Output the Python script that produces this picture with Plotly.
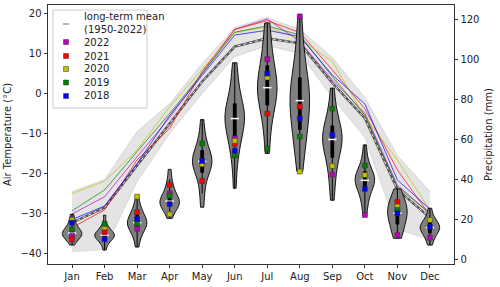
import numpy as np
import plotly.graph_objects as go

months = ["Jan", "Feb", "Mar", "Apr", "May", "Jun", "Jul", "Aug", "Sep", "Oct", "Nov", "Dec"]

# Air temperature (left axis, °C)
temp_mean = [-32.3, -28.5, -18.0, -7.5, 3.0, 11.7, 13.8, 12.5, 2.6, -6.2, -24.0, -31.0]
temp_band_max = [-24.5, -21.5, -9.5, -2.5, 7.5, 16.5, 19.0, 16.0, 9.0, -1.0, -15.5, -24.5]
temp_band_min = [-39.5, -39.0, -22.0, -10.0, 0.0, 9.2, 12.0, 10.0, -1.0, -11.0, -34.0, -36.5]
temp_2022 = [-30.1, -25.8, -15.8, -6.0, 5.0, 16.0, 18.6, 13.0, 3.4, -4.9, -22.9, -30.0]
temp_2021 = [-33.5, -29.1, -16.6, -8.7, 5.5, 16.0, 18.2, 15.2, 5.9, -3.8, -19.1, -30.4]
temp_2020 = [-25.0, -21.9, -14.1, -3.3, 6.0, 15.2, 16.6, 13.6, 8.0, -5.8, -16.6, -29.2]
temp_2019 = [-29.3, -24.1, -14.5, -5.0, 5.0, 15.3, 16.9, 14.6, 4.2, -5.4, -23.3, -30.0]
temp_2018 = [-31.5, -28.1, -17.5, -5.5, 4.5, 14.6, 15.8, 14.2, 4.6, -2.6, -21.6, -28.9]

# Precipitation (right axis, mm) – long-term monthly samples (1950-2022), estimated
precip_samples = [
    [7, 9, 10, 10.5, 11, 11.5, 12, 12.5, 13, 13, 13.5, 14, 14.5, 15, 16, 17, 18.5, 20, 22.5],
    [4.5, 7, 8.5, 9.5, 10, 10.5, 11, 11.5, 12, 12, 12.5, 13, 13.5, 14, 15, 16, 17.5, 22],
    [6, 10, 12, 14, 15, 16, 17, 17.5, 18, 18.5, 19, 20, 21, 22, 23.5, 25, 27, 31.3],
    [20.4, 23, 25, 26, 27, 27.5, 28, 28.5, 29, 30, 31, 32, 33, 35, 37, 40, 45],
    [26, 33, 38, 42, 44, 46, 47, 48, 49, 50, 51, 52, 54, 56, 59, 63, 70],
    [35.5, 48, 54, 58, 61, 64, 67, 69, 70, 71, 72, 74, 76, 78, 81, 86, 92, 98.5],
    [53, 62, 70, 75, 78, 81, 83, 85, 86, 88, 90, 93, 96, 100, 105, 112, 118.5],
    [44, 52, 58, 62, 65, 70, 74, 77, 79, 80, 82, 85, 88, 91, 95, 102, 110, 121.8],
    [29.5, 38, 44, 48, 52, 55, 57, 59, 60, 61, 62, 64, 66, 69, 72, 77, 85.8],
    [21.5, 27, 30, 33, 35, 36.5, 38, 39, 39.5, 40, 41, 42, 43.5, 45, 47, 51, 57.3],
    [10.4, 12, 14, 16, 18, 19.5, 21, 22, 23, 24, 25, 26, 27.5, 29, 30.5, 32, 35.2],
    [7, 9.5, 11, 12.5, 13.5, 14.5, 15, 15.5, 16, 16.5, 17, 18, 19, 20, 22, 25.5],
]
precip_2022 = [11.6, None, 15.2, 33.0, None, 60.6, 100.3, 121.8, 42.4, 22.1, 12.1, 10.7]
precip_2021 = [9.9, 13.4, 23.5, 37.2, 39.2, 57.8, 73.0, 76.5, None, None, 28.6, None]
precip_2020 = [19.6, 15.9, 31.3, 22.5, 47.6, 59.3, 91.1, 43.9, 46.7, 42.2, 26.3, 19.6]
precip_2019 = [14.9, 17.6, 17.9, 31.8, 58.0, 51.9, 55.4, 61.5, 75.5, 46.9, 24.6, None]
precip_2018 = [18.2, 9.9, 20.1, 27.6, 49.2, 54.4, 93.1, 70.5, 62.3, 35.2, 23.0, 16.2]

years = ["2022", "2021", "2020", "2019", "2018"]
colors = ["#bf00bf", "#ff0000", "#bfbf00", "#008000", "#0000ff"]
mean_label = "long-term mean<br>(1950-2022)"
temps = [temp_2022, temp_2021, temp_2020, temp_2019, temp_2018]
precs = [precip_2022, precip_2021, precip_2020, precip_2019, precip_2018]

FONT = "DejaVu Sans"
W, H = 500, 287
ML, MR, MT, MB = 48, 46, 5, 23
PW, PH = W - ML - MR, H - MT - MB

def px(x):  # pixel x -> paper x
    return (x - ML) / PW

def py(y):  # pixel y -> paper y
    return (H - MB - y) / PH

fig = go.Figure()

# grey band of all years
fig.add_trace(go.Scatter(x=months, y=temp_band_max, mode="lines",
                         line=dict(color="rgba(190,190,190,0.6)", width=0.8),
                         showlegend=False, hoverinfo="skip"))
fig.add_trace(go.Scatter(x=months, y=temp_band_min, mode="lines", fill="tonexty",
                         fillcolor="rgba(205,205,205,0.55)",
                         line=dict(color="rgba(190,190,190,0.6)", width=0.8),
                         showlegend=False, hoverinfo="skip"))

# long-term mean
fig.add_trace(go.Scatter(x=months, y=temp_mean, mode="lines",
                         line=dict(color="#555555", width=2.4),
                         showlegend=False, hoverinfo="skip"))
fig.add_trace(go.Scatter(x=months, y=temp_mean, mode="lines",
                         line=dict(color="white", width=0.9, dash="dot"),
                         showlegend=False, hoverinfo="skip"))

# yearly temperature lines
for t, c in zip(temps, colors):
    fig.add_trace(go.Scatter(x=months, y=t, mode="lines", line=dict(color=c, width=0.8),
                             showlegend=False, opacity=0.85, hoverinfo="skip"))

# violins on precipitation axis (one per month so each has the same max width)
for i, (m, s) in enumerate(zip(months, precip_samples)):
    fig.add_trace(go.Violin(x=[m] * len(s), y=s, yaxis="y2", width=0.6, scalemode="width",
                            scalegroup="m%d" % i, spanmode="hard", points=False,
                            fillcolor="#808080", line=dict(color="black", width=0.9),
                            opacity=1,
                            box=dict(visible=True, width=0.14, fillcolor="black",
                                     line=dict(color="black", width=1)),
                            meanline=dict(visible=False), showlegend=False,
                            hoverinfo="skip"))

medians = [float(np.median(s)) for s in precip_samples]
fig.add_trace(go.Scatter(x=months, y=medians, yaxis="y2", mode="markers",
                         marker=dict(symbol="line-ew", size=6,
                                     line=dict(color="white", width=1.5)),
                         showlegend=False, hoverinfo="skip"))

for p, c, yr in zip(precs, colors, years):
    fig.add_trace(go.Scatter(x=months, y=p, yaxis="y2", mode="markers", name=yr,
                             showlegend=False,
                             marker=dict(symbol="square", size=5, color=c,
                                         line=dict(color="#333333", width=0.5))))

# ---- legend (drawn with shapes + annotations for matplotlib-like compact spacing)
shapes = [dict(type="rect", xref="paper", yref="paper", layer="below",
               x0=px(53), x1=px(147), y0=py(108), y1=py(10),
               line=dict(color="#cccccc", width=1), fillcolor="rgba(255,255,255,0.8)")]
annotations = []
mark_x, text_x = 66, 82
shapes.append(dict(type="line", xref="paper", yref="paper", layer="above",
                   x0=px(mark_x - 3), x1=px(mark_x + 3), y0=py(24), y1=py(24),
                   line=dict(color="#808080", width=1.2)))
annotations.append(dict(text=mean_label, xref="paper", yref="paper", x=px(text_x),
                        y=py(23.5), xanchor="left", yanchor="middle", showarrow=False,
                        align="left", font=dict(size=10, color="#222")))
entry_y = [42, 56, 69, 82.5, 96]
for yr, c, ey in zip(years, colors, entry_y):
    shapes.append(dict(type="rect", xref="paper", yref="paper", layer="above",
                       x0=px(mark_x - 2.5), x1=px(mark_x + 2.5),
                       y0=py(ey + 2.5), y1=py(ey - 2.5), fillcolor=c,
                       line=dict(color="#333333", width=0.5)))
    annotations.append(dict(text=yr, xref="paper", yref="paper", x=px(text_x), y=py(ey),
                            xanchor="left", yanchor="middle", showarrow=False,
                            font=dict(size=10, color="#222")))

axis_common = dict(showgrid=False, zeroline=False, ticks="outside", ticklen=3.5,
                   tickwidth=0.8, tickcolor="#333", linecolor="#333", linewidth=0.8,
                   showline=True, automargin=False, tickfont=dict(size=10, color="#222"))

fig.update_layout(
    width=W, height=H,
    margin=dict(l=ML, r=MR, t=MT, b=MB),
    paper_bgcolor="white", plot_bgcolor="white",
    font=dict(family=FONT, size=10, color="#222"),
    xaxis=dict(**axis_common, mirror=True, range=[-0.74, 11.74]),
    yaxis=dict(**axis_common, range=[-42.6, 22.1], tickvals=[-40, -30, -20, -10, 0, 10, 20],
               title=dict(text="Air Temperature (°C)", font=dict(size=10), standoff=6)),
    yaxis2=dict(**axis_common, overlaying="y", side="right", range=[-2.5, 127.5],
                tickvals=[0, 20, 40, 60, 80, 100, 120],
                title=dict(text="Precipitation (mm)", font=dict(size=10), standoff=6)),
    showlegend=False,
    shapes=shapes, annotations=annotations,
    violinmode="overlay",
)

fig.write_html("out.html", config={"displayModeBar": False},
               post_script="document.body.style.margin='0';")
